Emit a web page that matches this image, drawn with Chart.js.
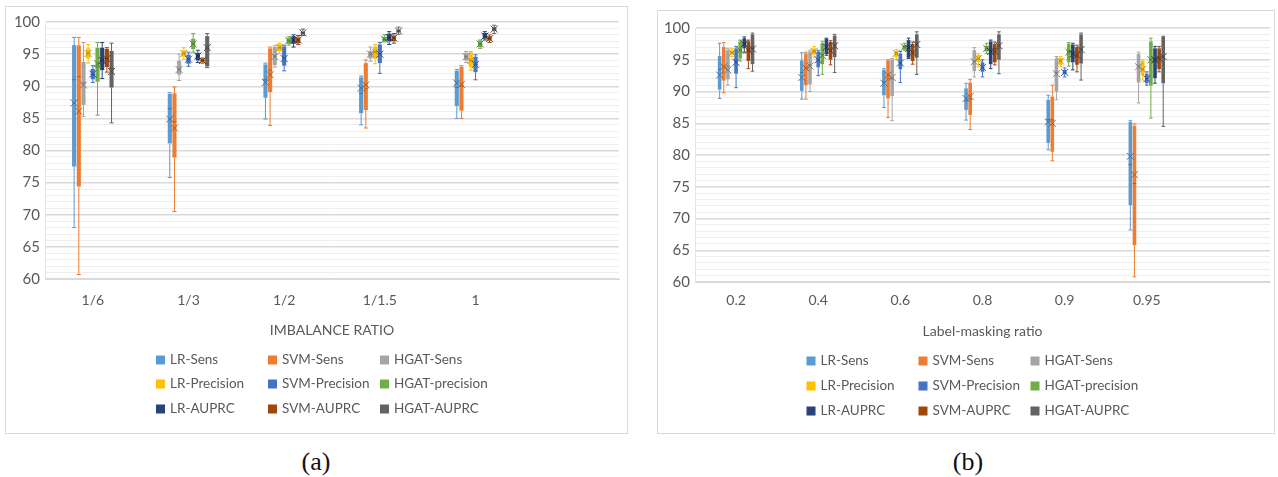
<!DOCTYPE html>
<html>
<head>
<meta charset="utf-8">
<script src="https://cdn.jsdelivr.net/npm/chart.js@4.4.1/dist/chart.umd.min.js"></script>
<style>
body { margin: 0; background: #fff; width: 1278px; height: 477px; position: relative; overflow: hidden; }
.panel { position: absolute; border: 1px solid #d9d9d9; background: #fff; }
#pa { left: 5px; top: 6px; width: 621px; height: 426px; }
#pb { left: 657px; top: 10px; width: 616px; height: 422px; }
.cap { position: absolute; top: 447px; width: 60px; text-align: center; font-family: "Liberation Serif", serif; font-size: 26px; color: #111; }
</style>
</head>
<body>
<div class="panel" id="pa"><canvas id="chartA" width="621" height="426"></canvas></div>
<div class="panel" id="pb"><canvas id="chartB" width="616" height="422"></canvas></div>
<div class="cap" style="left:286px">(a)</div>
<div class="cap" style="left:938px">(b)</div>
<script>
///////////////////////////////////////////////////////////////////////////////
// data
// categories (x) and tick labels (y)
const ratioA = ["1/6", "1/3", "1/2", "1/1.5", "1"];
const ratioB = ["0.2", "0.4", "0.6", "0.8", "0.9", "0.95"];
const yTicks = [60, 65, 70, 75, 80, 85, 90, 95, 100];

const seriesNames = ["LR-Sens", "SVM-Sens", "HGAT-Sens",
                     "LR-Precision", "SVM-Precision", "HGAT-precision",
                     "LR-AUPRC", "SVM-AUPRC", "HGAT-AUPRC"];
const seriesColors = ["#5B9BD5", "#ED7D31", "#A5A5A5",
                      "#FFC000", "#4472C4", "#70AD47",
                      "#264478", "#9E480E", "#636363"];

// (a) imbalance ratio, one row per category: [min, q1, median, q3, max, mean]
const a_LR_Sens   = [[68.0,77.5,91.0,96.4,97.6,87.4],[75.8,81.1,86.5,88.8,89.0,84.9],[84.9,88.2,91.0,93.4,93.6,90.6],[84.0,85.8,88.9,91.4,91.6,89.7],[85.0,86.9,89.8,92.4,92.6,90.5]];
const a_SVM_Sens  = [[60.7,74.4,91.5,96.4,97.6,86.1],[70.5,78.9,84.5,88.9,89.9,83.5],[83.9,89.1,92.5,95.9,96.1,91.8],[83.5,86.3,89.6,93.6,94.1,90.2],[85.0,86.2,90.0,93.0,93.2,90.3]];
const a_HGAT_Sens = [[85.3,87.1,90.5,93.8,96.8,90.2],[90.9,91.8,92.7,94.0,95.0,92.6],[93.0,93.3,94.7,96.1,96.3,94.6],[93.9,94.3,95.0,95.5,96.1,95.0],[93.7,94.0,94.6,95.2,95.4,94.6]];
const a_LR_Prec   = [[93.6,94.3,95.2,95.9,96.5,95.1],[94.2,94.6,95.1,95.6,96.0,95.1],[95.1,95.4,96.0,96.6,96.7,96.0],[93.5,94.3,95.3,96.2,96.5,95.3],[92.5,93.0,94.0,95.3,95.4,94.0]];
const a_SVM_Prec  = [[90.6,91.1,91.8,92.7,93.2,91.9],[93.1,93.5,94.2,94.9,95.3,94.2],[92.4,93.2,94.4,96.2,96.4,94.3],[92.0,93.6,95.0,96.5,96.8,95.0],[91.0,92.2,93.4,94.6,94.9,93.4]];
const a_HGAT_Prec = [[85.5,90.7,93.0,96.0,96.8,93.5],[95.3,95.8,96.6,97.4,98.2,96.6],[96.4,96.6,97.1,97.5,97.7,97.1],[96.9,97.0,97.3,97.7,98.0,97.3],[95.9,96.1,96.6,97.1,97.2,96.6]];
const a_LR_AUPRC   = [[91.2,92.5,94.0,96.0,96.8,94.0],[93.7,94.0,94.7,95.2,95.6,94.7],[96.1,96.6,97.2,97.8,98.0,97.2],[96.5,97.0,97.6,98.2,98.5,97.6],[97.2,97.4,97.8,98.3,98.5,97.8]];
const a_SVM_AUPRC  = [[92.2,93.0,94.3,95.8,96.0,94.3],[93.6,93.8,94.0,94.3,94.4,94.0],[96.5,96.7,97.2,97.6,97.9,97.2],[96.7,97.0,97.5,97.9,98.2,97.5],[96.8,97.1,97.4,97.8,98.0,97.4]];
const a_HGAT_AUPRC = [[84.3,89.8,92.8,95.5,96.7,92.3],[92.9,93.1,95.9,97.8,98.2,96.0],[97.9,98.1,98.3,98.5,98.9,98.3],[98.1,98.4,98.6,98.8,99.2,98.6],[98.2,98.6,98.9,99.2,99.5,98.9]];

// (b) label-masking ratio
const b_LR_Sens   = [[88.9,90.3,93.5,95.6,97.6,92.6],[88.8,90.1,93.0,94.9,96.1,92.2],[87.5,89.4,91.5,93.4,93.6,91.3],[85.5,87.1,88.5,90.5,91.3,88.9],[80.8,81.9,85.6,88.7,89.4,85.2],[68.2,72.1,78.5,85.2,85.4,79.8]];
const b_SVM_Sens  = [[89.8,91.7,94.0,97.0,97.7,93.9],[88.8,91.0,93.8,96.0,96.2,93.7],[85.9,88.9,92.0,94.9,95.0,92.6],[84.0,86.3,88.8,91.4,91.9,89.2],[79.1,80.5,85.5,89.2,91.0,85.0],[60.8,65.8,75.5,84.6,84.9,76.9]];
const b_HGAT_Sens = [[91.0,91.9,94.0,96.5,96.8,93.4],[90.0,91.1,94.2,96.3,96.5,94.0],[85.4,89.3,92.0,95.0,95.2,92.2],[92.3,93.2,94.8,96.5,96.9,94.7],[88.7,90.0,93.0,95.2,95.5,92.8],[88.2,91.4,94.0,95.9,96.2,93.9]];
const b_LR_Prec   = [[95.5,95.8,96.1,96.5,96.8,96.1],[95.4,95.8,96.3,96.8,97.1,96.3],[95.1,95.4,96.0,96.4,96.6,96.0],[93.9,94.6,95.2,95.8,96.0,95.2],[93.9,94.2,94.8,95.3,95.5,94.8],[91.8,92.6,93.5,94.8,95.0,93.5]];
const b_SVM_Prec  = [[90.6,92.8,94.8,96.8,97.1,94.6],[92.5,93.8,95.0,96.3,96.5,95.0],[91.4,93.5,94.5,96.0,96.3,94.5],[92.3,93.1,93.8,94.6,95.0,93.8],[92.3,92.7,93.0,93.4,93.7,93.0],[91.0,91.3,92.0,92.8,93.1,92.0]];
const b_HGAT_Prec = [[94.8,95.2,96.5,97.9,98.1,96.5],[92.7,94.3,95.8,97.6,97.9,95.7],[96.5,96.6,97.0,97.3,97.6,97.0],[96.0,96.3,96.8,97.2,97.6,96.8],[94.0,94.6,96.2,97.5,97.7,96.2],[85.8,90.9,95.0,97.9,98.4,95.0]];
const b_LR_AUPRC   = [[96.2,96.8,97.5,98.4,98.6,97.5],[95.7,95.9,97.0,98.3,98.4,97.0],[95.2,95.3,96.8,98.1,98.4,96.8],[93.6,94.3,96.3,97.9,98.1,96.3],[93.4,94.6,95.9,97.4,97.6,95.9],[91.3,92.1,95.0,96.8,97.1,95.0]];
const b_SVM_AUPRC  = [[93.6,94.8,96.5,97.9,98.1,96.5],[94.2,95.0,96.4,97.8,98.0,96.4],[94.3,94.8,96.1,97.5,97.8,96.1],[94.2,94.6,96.3,97.5,97.8,96.3],[93.1,94.2,95.7,97.0,97.3,95.7],[93.1,93.5,95.2,96.8,97.1,95.2]];
const b_HGAT_AUPRC = [[93.2,94.3,96.8,99.0,99.2,96.7],[93.0,95.4,97.3,98.8,99.0,97.2],[92.7,95.3,97.5,99.0,99.4,97.4],[92.8,95.0,97.2,99.0,99.4,97.2],[91.8,94.4,96.6,99.0,99.2,96.6],[84.5,91.3,95.5,98.6,98.7,95.5]];


///////////////////////////////////////////////////////////////////////////////
Chart.defaults.font.family = "Lato";
Chart.defaults.font.size = 13;
Chart.defaults.color = "#595959";

// darker shade of a hex colour, for median line and mean marker
function shade(hex, f)
{
    let n = parseInt(hex.slice(1), 16);
    let r = Math.round(((n >> 16) & 255) * f);
    let g = Math.round(((n >> 8) & 255) * f);
    let b = Math.round((n & 255) * f);
    return "rgb(" + r + "," + g + "," + b + ")";
}

// call fn for every box with its pixel values
function eachBox(chart, fn)
{
    let y = chart.scales.y;
    chart.data.datasets.forEach((ds, i) =>
    {
        let meta = chart.getDatasetMeta(i);
        ds.stats.forEach((s, j) =>
        {
            let bar = meta.data[j];
            if(!bar) return;
            fn(chart.ctx, bar.x, bar.width, s.map(v => y.getPixelForValue(v)), ds.backgroundColor);
        });
    });
}

// whiskers, median lines, mean markers and the 3x3 legend
const boxPlugin = {
    id: "boxes",
    beforeDatasetsDraw(chart)
    {
        eachBox(chart, (ctx, x, w, p, color) =>
        {
            ctx.save();
            ctx.strokeStyle = color;
            ctx.lineWidth = 1;
            ctx.beginPath();
            ctx.moveTo(x, p[0]); ctx.lineTo(x, p[1]);
            ctx.moveTo(x, p[3]); ctx.lineTo(x, p[4]);
            ctx.moveTo(x - w / 2, p[0]); ctx.lineTo(x + w / 2, p[0]);
            ctx.moveTo(x - w / 2, p[4]); ctx.lineTo(x + w / 2, p[4]);
            ctx.stroke();
            ctx.restore();
        });
    },
    afterDatasetsDraw(chart)
    {
        eachBox(chart, (ctx, x, w, p, color) =>
        {
            ctx.save();
            ctx.strokeStyle = shade(color, 0.75);
            ctx.lineWidth = 1;
            ctx.beginPath();
            ctx.moveTo(x - w / 2, p[2]); ctx.lineTo(x + w / 2, p[2]);
            let s = 3.5;
            ctx.moveTo(x - s, p[5] - s); ctx.lineTo(x + s, p[5] + s);
            ctx.moveTo(x - s, p[5] + s); ctx.lineTo(x + s, p[5] - s);
            ctx.stroke();
            ctx.restore();
        });
    },
    afterDraw(chart, args, opts)
    {
        let ctx = chart.ctx;
        let area = chart.chartArea;
        let cx = (area.left + area.right) / 2;
        ctx.save();
        ctx.font = "13.5px Lato";
        ctx.textBaseline = "middle";
        chart.data.datasets.forEach((ds, i) =>
        {
            let x = cx + opts.legendLeft + (i % 3) * opts.legendCol;
            let y = area.bottom + opts.legendRows[Math.floor(i / 3)];
            ctx.fillStyle = ds.backgroundColor;
            ctx.fillRect(x, y - 4.5, 9, 9);
            ctx.fillStyle = "#595959";
            ctx.fillText(ds.label, x + 14, y);
        });
        ctx.restore();
    }
};

///////////////////////////////////////////////////////////////////////////////
function drawBoxChart(id, cats, series, title, lay)
{
    let context = document.getElementById(id).getContext("2d");
    return new Chart(context,
    {
        type: "bar",
        data:
        {
            labels: cats.concat([""]),          // empty slot at the right, as in the original
            datasets: series.map((s, k) => ({
                label: seriesNames[k],
                data: s.map(v => [v[1], v[3]]),  // box = q1..q3
                stats: s,
                backgroundColor: seriesColors[k],
                borderWidth: 0,
                categoryPercentage: lay.catPct,
                barPercentage: 0.88
            }))
        },
        options:
        {
            responsive: false,
            animation: false,
            events: [],
            layout: { padding: { top: lay.top, right: lay.right, bottom: lay.bottom, left: 0 } },
            plugins:
            {
                legend: { display: false },
                tooltip: { enabled: false },
                boxes: { legendLeft: -176, legendCol: 112, legendRows: lay.rows }
            },
            scales:
            {
                x:
                {
                    grid: { display: false, drawTicks: false },
                    border: { color: "#d9d9d9", width: 1 },
                    ticks: { padding: lay.tickPad, font: { size: 14 } },
                    title: { display: true, text: title, font: { size: 14 }, padding: { top: 4, bottom: lay.titlePad } },
                    afterFit: s => { s.height = 60; }
                },
                y:
                {
                    min: 60,
                    max: 100,
                    grid:
                    {
                        drawTicks: false,
                        color: c => yTicks.includes(c.tick.value) ? "#d9d9d9" : "#eeeeee",
                        lineWidth: c => yTicks.includes(c.tick.value) ? 1.4 : 1
                    },
                    border: { display: true, color: "#e4e4e4" },
                    ticks:
                    {
                        stepSize: 1,
                        autoSkip: false,
                        padding: 5,
                        font: { size: 15 },
                        callback: v => yTicks.includes(v) ? v : ""
                    },
                    afterFit: s => { s.width = lay.yWidth; }
                }
            }
        },
        plugins: [boxPlugin]
    });
}

document.addEventListener("DOMContentLoaded", e =>
{
    drawBoxChart("chartA", ratioA,
        [a_LR_Sens, a_SVM_Sens, a_HGAT_Sens, a_LR_Prec, a_SVM_Prec, a_HGAT_Prec, a_LR_AUPRC, a_SVM_AUPRC, a_HGAT_AUPRC],
        "IMBALANCE RATIO",
        { catPct: 0.44, top: 15, right: 8, bottom: 94, yWidth: 39, tickPad: 13, titlePad: 0, rows: [81, 105, 130] });

    drawBoxChart("chartB", ratioB,
        [b_LR_Sens, b_SVM_Sens, b_HGAT_Sens, b_LR_Prec, b_SVM_Prec, b_HGAT_Prec, b_LR_AUPRC, b_SVM_AUPRC, b_HGAT_AUPRC],
        "Label-masking ratio",
        { catPct: 0.45, top: 17, right: 4, bottom: 91, yWidth: 37, tickPad: 10, titlePad: 2, rows: [79, 104, 129] });
});
</script>
</body>
</html>
